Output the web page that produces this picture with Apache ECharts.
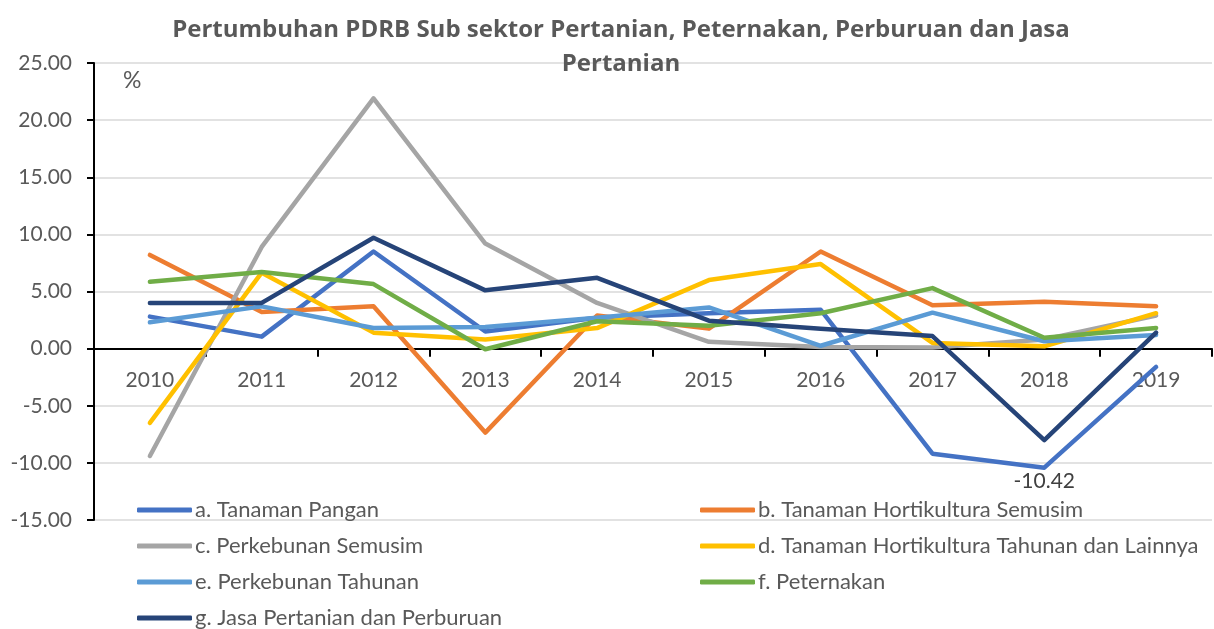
<!DOCTYPE html>
<html>
<head>
<meta charset="utf-8">
<script src="https://cdn.jsdelivr.net/npm/echarts@6/dist/echarts.min.js"></script>
<style>
  html, body { margin: 0; padding: 0; background: #fff; }
  #chart { width: 1214px; height: 629px; }
</style>
</head>
<body>
<div id="chart"></div>
<script>
'use strict';

// data
const years = ['2010', '2011', '2012', '2013', '2014', '2015', '2016', '2017', '2018', '2019'];

const seriesNames = [
  'a. Tanaman Pangan',
  'b. Tanaman Hortikultura Semusim',
  'c. Perkebunan Semusim',
  'd. Tanaman Hortikultura Tahunan dan Lainnya',
  'e. Perkebunan Tahunan',
  'f. Peternakan',
  'g. Jasa Pertanian dan Perburuan'
];

const tanamanPangan = [2.8, 1.05, 8.5, 1.5, 2.7, 3.1, 3.4, -9.2, -10.42, -1.6];
const hortiSemusim = [8.2, 3.2, 3.7, -7.35, 2.9, 1.75, 8.5, 3.8, 4.1, 3.7];
const kebunSemusim = [-9.4, 8.9, 21.9, 9.2, 4.0, 0.6, 0.15, 0.1, 0.8, 2.9];
const hortiTahunan = [-6.5, 6.65, 1.4, 0.8, 1.8, 6.0, 7.4, 0.5, 0.2, 3.1];
const kebunTahunan = [2.3, 3.7, 1.8, 1.9, 2.7, 3.6, 0.25, 3.15, 0.65, 1.2];
const peternakan = [5.85, 6.7, 5.65, -0.05, 2.4, 2.0, 3.1, 5.3, 0.95, 1.8];
const jasaPertanian = [4.0, 4.0, 9.7, 5.1, 6.2, 2.45, 1.75, 1.1, -8.0, 1.4];

const seriesValues = [tanamanPangan, hortiSemusim, kebunSemusim, hortiTahunan, kebunTahunan, peternakan, jasaPertanian];
const colors = ['#4472C4', '#ED7D31', '#A5A5A5', '#FFC000', '#5B9BD5', '#70AD47', '#264478'];

// the one data label shown in the picture: series a, 2018
const labelSeries = 0;
const labelYear = '2018';

const FONT = 'Lato, "Open Sans", sans-serif';
const TEXT = '#595959';

(function () {
  const chart = echarts.init(document.getElementById('chart'));

  const series = seriesNames.map((name, i) => ({
    name: name,
    type: 'line',
    symbol: 'circle',
    symbolSize: 0,
    showSymbol: true,
    data: seriesValues[i].map((v, j) => {
      if (i === labelSeries && years[j] === labelYear) {
        return {
          value: v,
          label: {
            show: true,
            position: 'bottom',
            distance: 3,
            formatter: (p) => Number(p.value).toFixed(2),
            fontFamily: FONT,
            fontSize: 21,
            color: '#404040'
          }
        };
      }
      return v;
    }),
    lineStyle: { width: 4.5, color: colors[i], cap: 'round', join: 'round' },
    itemStyle: { color: colors[i] },
    emphasis: { disabled: true }
  }));

  const legendCommon = {
    orient: 'vertical',
    icon: 'roundRect',
    itemWidth: 55,
    itemHeight: 5,
    itemGap: 14,
    height: 200,
    textStyle: { fontFamily: FONT, fontSize: 22, color: TEXT, padding: [0, 0, 0, -2] }
  };

  chart.setOption({
    animation: false,
    color: colors,
    title: {
      text: 'Pertumbuhan PDRB Sub sektor Pertanian, Peternakan, Perburuan dan Jasa\nPertanian',
      left: 616,
      top: 8,
      textAlign: 'center',
      textStyle: { fontFamily: '"Open Sans", sans-serif', fontSize: 24, fontWeight: 'bold', color: TEXT, lineHeight: 34 }
    },
    graphic: [{
      type: 'text',
      left: 123,
      top: 69,
      style: { text: '%', font: '23px ' + FONT, fill: TEXT }
    }],
    legend: [
      Object.assign({}, legendCommon, {
        left: 132,
        top: 494,
        data: [seriesNames[0], seriesNames[2], seriesNames[4], seriesNames[6]]
      }),
      Object.assign({}, legendCommon, {
        left: 695,
        top: 494,
        data: [seriesNames[1], seriesNames[3], seriesNames[5]]
      })
    ],
    grid: { left: 94, right: 2, top: 63, bottom: 109 },
    xAxis: {
      type: 'category',
      data: years,
      boundaryGap: true,
      axisLine: { onZero: true, lineStyle: { color: '#000', width: 2 } },
      axisTick: { show: true, length: 8, lineStyle: { color: '#000', width: 2 } },
      // labels sit just under the zero line, not under the grid bottom
      axisLabel: { margin: -150, fontFamily: FONT, fontSize: 21, color: TEXT },
      splitLine: { show: false }
    },
    yAxis: {
      type: 'value',
      min: -15,
      max: 25,
      interval: 5,
      axisLine: { show: true, lineStyle: { color: '#000', width: 2 } },
      axisTick: { show: true, length: 7, lineStyle: { color: '#000', width: 2 } },
      axisLabel: {
        margin: 22,
        fontFamily: FONT,
        fontSize: 21,
        color: TEXT,
        formatter: (v) => v.toFixed(2)
      },
      splitLine: { show: true, lineStyle: { color: '#D9D9D9', width: 1.5 } }
    },
    series: series
  });
})();
</script>
</body>
</html>
